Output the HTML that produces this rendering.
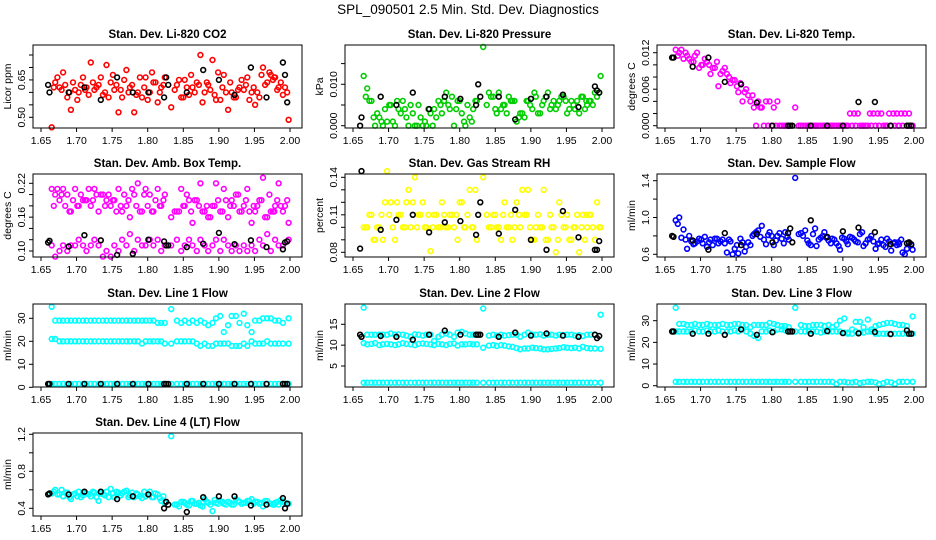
<!DOCTYPE html>
<html><head><meta charset="utf-8"><title>SPL_090501 Diagnostics</title>
<style>
html,body{margin:0;padding:0;background:#fff;}
svg{display:block;font-family:"Liberation Sans",Arial,sans-serif;}
</style></head>
<body>
<svg id="chart" width="936" height="540" viewBox="0 0 936 540" xmlns="http://www.w3.org/2000/svg">
<rect x="0" y="0" width="936" height="540" fill="#fff"/>
<text x="468" y="14" text-anchor="middle" font-size="13.5" fill="#000">SPL_090501  2.5 Min. Std. Dev. Diagnostics</text>
</svg>
<script>
const X = [1.665,1.670,1.676,1.681,1.687,1.692,1.698,1.703,1.709,1.714,1.720,1.725,1.731,1.737,1.742,1.748,1.753,1.759,1.764,1.770,1.775,1.781,1.786,1.792,1.797,1.803,1.808,1.814,1.819,1.824,1.833,1.841,1.847,1.852,1.858,1.863,1.869,1.874,1.880,1.885,1.891,1.896,1.902,1.907,1.913,1.918,1.924,1.929,1.935,1.940,1.946,1.951,1.957,1.962,1.968,1.973,1.979,1.984,1.990,1.998];
const X2 = [1.668,1.673,1.679,1.684,1.690,1.695,1.701,1.706,1.712,1.717,1.723,1.728,1.734,1.740,1.745,1.751,1.756,1.762,1.767,1.773,1.778,1.784,1.789,1.795,1.800,1.806,1.811,1.817,1.822,1.838,1.844,1.850,1.855,1.861,1.866,1.872,1.877,1.883,1.888,1.894,1.899,1.905,1.910,1.916,1.921,1.927,1.932,1.938,1.943,1.949,1.954,1.960,1.965,1.971,1.976,1.982,1.987,1.993,1.996,1.978];
const BX = [1.660,1.662,1.689,1.711,1.734,1.757,1.779,1.801,1.823,1.826,1.829,1.855,1.878,1.900,1.922,1.945,1.967,1.990,1.993,1.996];
const xTicks = [1.65,1.70,1.75,1.80,1.85,1.90,1.95,2.00];
const xTickLabels = ["1.65","1.70","1.75","1.80","1.85","1.90","1.95","2.00"];

const CO2 = [0.46,0.64,0.62,0.68,0.58,0.53,0.61,0.60,0.66,0.62,0.72,0.61,0.63,0.59,0.71,0.64,0.61,0.52,0.58,0.69,0.62,0.52,0.60,0.58,0.66,0.60,0.64,0.56,0.62,0.66,0.54,0.63,0.58,0.65,0.59,0.62,0.64,0.75,0.60,0.63,0.73,0.57,0.57,0.67,0.53,0.60,0.58,0.62,0.61,0.66,0.60,0.55,0.58,0.70,0.64,0.67,0.66,0.62,0.59,0.49];
const CO2_2 = [0.62,0.66,0.61,0.63,0.60,0.64,0.57,0.63,0.61,0.59,0.64,0.62,0.66,0.60,0.58,0.67,0.63,0.61,0.65,0.60,0.63,0.59,0.66,0.62,0.57,0.68,0.64,0.60,0.63,0.61,0.65,0.58,0.62,0.67,0.60,0.63,0.56,0.64,0.61,0.59,0.68,0.62,0.60,0.64,0.58,0.61,0.65,0.63,0.57,0.62,0.60,0.67,0.63,0.68,0.65,0.61,0.64,0.62,0.60,0.66];
const CO2_K = [0.63,0.60,0.60,0.62,0.57,0.66,0.60,0.60,0.58,0.66,0.63,0.60,0.69,0.65,0.59,0.70,0.58,0.72,0.67,0.56];

const PR = [0.012,0.009,0.006,0.000,0.002,0.000,0.001,0.005,0.000,0.004,0.006,0.002,0.005,0.000,0.005,0.000,0.000,0.003,0.004,0.006,0.003,0.008,0.004,0.000,0.006,0.003,0.000,0.002,0.004,0.006,0.019,0.008,0.007,0.003,0.004,0.005,0.007,0.006,0.001,0.003,0.002,0.006,0.004,0.007,0.003,0.006,0.008,0.005,0.004,0.006,0.007,0.003,0.006,0.004,0.003,0.007,0.005,0.006,0.008,0.012];
const PR_2 = [0.007,0.006,0.002,0.003,0.001,0.004,0.005,0.001,0.006,0.003,0.004,0.000,0.003,0.000,0.002,0.001,0.004,0.000,0.002,0.005,0.006,0.005,0.007,0.004,0.006,0.001,0.005,0.001,0.006,0.005,0.007,0.004,0.008,0.005,0.003,0.006,0.006,0.002,0.003,0.006,0.005,0.008,0.003,0.005,0.007,0.004,0.006,0.005,0.007,0.006,0.004,0.005,0.006,0.007,0.004,0.006,0.005,0.007,0.008,0.006];
const PR_K = [0.000,0.002,0.007,0.005,0.008,0.004,0.007,0.0065,0.005,0.010,0.007,0.007,0.0015,0.0065,0.007,0.0075,0.0045,0.0095,0.0085,0.008];

const TEMP_A = [0.0125,0.012,0.011,0.0115,0.0105,0.0115,0.0095,0.010,0.0105,0.0085,0.0095,0.0065,0.009,0.0085,0.007,0.0075,0.0055,0.004,0.006,0.004,0.003,0.004,0.003,0.004,0.004,0.003,0.004,0,0,0,0.003,0,0,0,0,0,0,0,0,0,0,0,0,0,0,0,0,0,0,0,0,0,0,0,0,0,0,0,0,0];
const TEMP_B = [0.0115,0.0125,0.012,0.011,0.0105,0.012,0.010,0.011,0.010,0.0095,0.0105,0.0085,0.0095,0.008,0.0075,0.0065,0.007,0.0055,0.005,0.005,0,0.003,0,0,0,0,0,0,0,0,0,0,0,0,0,0,0,0,0,0,0,0,0.002,0.002,0.002,0,0,0.002,0.002,0.002,0.002,0,0.002,0.002,0.002,0.002,0.002,0.002,0,0];
const TEMP_K = [0.0112,0.0112,0.0097,0.0112,0.0072,0.0068,0.0038,0.000,0.000,0.000,0.000,0.000,0.000,0.000,0.0039,0.0039,0.000,0.000,0.000,0.000];

const AMB_A = [0.21,0.20,0.19,0.21,0.20,0.17,0.21,0.18,0.19,0.19,0.18,0.21,0.17,0.20,0.19,0.18,0.19,0.21,0.17,0.18,0.16,0.20,0.22,0.17,0.21,0.20,0.17,0.21,0.18,0.20,0.16,0.17,0.21,0.18,0.19,0.15,0.19,0.22,0.17,0.16,0.18,0.22,0.17,0.21,0.16,0.19,0.20,0.17,0.18,0.21,0.15,0.17,0.19,0.23,0.16,0.17,0.18,0.22,0.17,0.15];
const AMB_B = [0.11,0.09,0.10,0.11,0.10,0.11,0.11,0.12,0.11,0.10,0.11,0.12,0.11,0.09,0.10,0.09,0.11,0.10,0.12,0.11,0.13,0.10,0.12,0.11,0.11,0.12,0.11,0.12,0.10,0.11,0.11,0.12,0.10,0.11,0.12,0.11,0.10,0.12,0.11,0.10,0.11,0.12,0.10,0.12,0.11,0.10,0.11,0.10,0.11,0.10,0.11,0.10,0.12,0.11,0.13,0.10,0.12,0.11,0.11,0.12];
const AMB_C = [0.18,0.21,0.20,0.18,0.17,0.19,0.18,0.20,0.19,0.21,0.19,0.20,0.20,0.18,0.20,0.19,0.17,0.18,0.20,0.19,0.21,0.18,0.17,0.20,0.18,0.17,0.19,0.18,0.19,0.17,0.17,0.18,0.20,0.17,0.19,0.18,0.17,0.18,0.16,0.18,0.19,0.17,0.19,0.18,0.18,0.20,0.17,0.19,0.17,0.18,0.18,0.19,0.16,0.20,0.17,0.19,0.18,0.18,0.19,0.17];
const AMB_K = [0.115,0.118,0.108,0.128,0.119,0.093,0.095,0.12,0.117,0.11,0.11,0.107,0.113,0.132,0.112,0.119,0.107,0.103,0.115,0.117];

const RH = [0.10,0.10,0.11,0.09,0.10,0.09,0.145,0.12,0.09,0.11,0.10,0.12,0.10,0.14,0.11,0.12,0.10,0.081,0.11,0.10,0.12,0.10,0.11,0.10,0.09,0.12,0.10,0.13,0.10,0.09,0.14,0.10,0.11,0.10,0.09,0.12,0.10,0.09,0.12,0.10,0.11,0.13,0.09,0.10,0.10,0.13,0.09,0.10,0.08,0.12,0.10,0.11,0.09,0.10,0.08,0.11,0.10,0.11,0.09,0.10];
const RH_2 = [0.10,0.11,0.09,0.10,0.11,0.12,0.11,0.10,0.12,0.11,0.10,0.13,0.12,0.10,0.11,0.10,0.11,0.10,0.11,0.10,0.11,0.10,0.11,0.11,0.12,0.10,0.11,0.10,0.13,0.11,0.10,0.11,0.10,0.11,0.10,0.11,0.10,0.11,0.13,0.11,0.10,0.09,0.11,0.10,0.09,0.11,0.10,0.09,0.11,0.10,0.09,0.10,0.11,0.10,0.09,0.11,0.10,0.12,0.10,0.11];
const RH_K = [0.083,0.145,0.098,0.106,0.110,0.096,0.104,0.105,0.094,0.110,0.120,0.095,0.114,0.090,0.082,0.113,0.092,0.082,0.082,0.089];

const SF = [0.97,1.00,0.87,0.66,0.74,0.72,0.77,0.72,0.68,0.76,0.77,0.72,0.76,0.62,0.74,0.66,0.61,0.73,0.68,0.70,0.82,0.86,0.91,0.71,0.84,0.70,0.80,0.77,0.84,0.76,1.43,0.83,0.86,0.72,0.82,0.69,0.78,0.84,0.75,0.77,0.72,0.65,0.77,0.71,0.78,0.74,0.82,0.69,0.76,0.80,0.66,0.72,0.70,0.77,0.64,0.73,0.71,0.62,0.66,0.65];
const SF_2 = [0.93,0.78,0.76,0.80,0.71,0.74,0.76,0.79,0.73,0.70,0.77,0.74,0.72,0.76,0.60,0.70,0.77,0.63,0.73,0.80,0.84,0.79,0.76,0.81,0.80,0.75,0.83,0.72,0.79,0.82,0.80,0.75,0.70,0.88,0.76,0.80,0.78,0.72,0.76,0.69,0.78,0.74,0.79,0.76,0.73,0.84,0.72,0.77,0.74,0.71,0.76,0.68,0.74,0.72,0.70,0.76,0.60,0.72,0.70,0.73];
const SF_K = [0.80,0.79,0.75,0.65,0.83,0.70,0.82,0.73,0.83,0.88,0.73,0.97,0.79,0.85,0.89,0.84,0.71,0.72,0.73,0.71];

const L1_A = [35,29,29,29,29,29,29,29,29,29,29,29,29,29,29,29,29,29,29,29,29,29,29,29,29,29,29,28,28,28,34,29,28,29,28,29,28,29,28,27,28,30,31,24,27,31,31,28,32,27,24,29,29,30,30,30,29,29,28,30];
const L1_B = [21,21,20,20,20,20,20,20,20,20,20,20,20,20,20,20,20,20,20,20,20,20,20,19,20,20,20,20,20,19,19,20,20,20,20,20,19,18,19,18,18,19,19,19,19,18,18,18,19,18,20,19,19,19,20,19,19,19,19,19];
const L1_C = [1.5,1.5,1.5,1.5,1.5,1.5,1.5,1.5,1.5,1.5,1.5,1.5,1.5,1.5,1.5,1.5,1.5,1.5,1.5,1.5,1.5,1.5,1.5,1.5,1.5,1.5,1.5,1.5,1.5,1.5,1.5,1.5,1.5,1.5,1.5,1.5,1.5,1.5,1.5,1.5,1.5,1.5,1.5,1.5,1.5,1.5,1.5,1.5,1.5,1.5,1.5,1.5,1.5,1.5,1.5,1.5,1.5,1.5,1.5,1.5];
const L1_K = [1.5,1.5,1.5,1.5,1.5,1.5,1.5,1.5,1.5,1.5,1.5,1.5,1.5,1.5,1.5,1.5,1.5,1.5,1.5,1.5];

const L2_A = [19,12.5,12.5,12.5,12.5,12.5,12.5,12.8,12.5,12.6,12.5,12.3,12,12.6,12.5,12.3,12.5,12.5,11,12,12.5,12.8,12.5,12,13,13.2,12.8,12.5,12.5,12.5,18.8,12.3,12.5,12.3,12.5,12.3,12.4,12.5,12.5,12,12.5,13,12.5,12.5,12.6,12.3,12.5,12.5,12.3,12.5,12.4,12.5,12.5,12.3,12.4,12.2,12.5,12.5,12.5,17.3];
const L2_B = [10.5,10.2,10.3,10.5,10,10.2,10.3,10.2,10,10.2,10.5,10.3,10.2,10,10.3,10.4,10.3,10.2,10,10.3,10.2,10,10.3,10.4,9.9,10.2,10.2,10.3,10.2,10.2,9.4,9.9,10,9.8,10,9.9,9.7,9.6,9.3,9,9.2,9.2,9.4,9.3,9.2,9,9,9.1,9.2,9.3,9.5,9.4,9.3,9.4,9.2,9.6,9.3,9.2,9.2,9.1];
const L2_C = [1,1,1,1,1,1,1,1,1,1,1,1,1,1,1,1,1,1,1,1,1,1,1,1,1,1,1,1,1,1,1,1,1,1,1,1,1,1,1,1,1,1,1,1,1,1,1,1,1,1,1,1,1,1,1,1,1,1,1,1];
const L2_K = [12.5,12,12.2,12,11.3,12.5,13.5,12.5,12.5,12.5,12.5,12,13,12.3,12.8,12.3,12,12.5,11.7,12.2];

const L3_A = [36,28.5,28.5,28,28,28.5,28,28,28.5,28,28,28,28.5,28,28,28.5,28.5,28,28,27,28,28,28,28,29,28.5,28,27.5,27.5,27,36,28,27.5,27.5,28,28,28,27.5,28,27,28,30,31,24.5,26,29.5,29.5,27,30.5,26,27.5,28,28.5,29,29,28.5,28,28,27.5,32];
const L3_B = [25,25,25,25,25,25.5,25,25,25.5,25,25,25.5,25,25,25,25.5,25,26,25,24,23,22,25,25,25.5,25,26,26,25.5,25,25,25,25,25,25,25,24.5,25,25,25,25,25,24.5,24,24,25,24.5,24.5,25,25,24,24,24,24,24,24,24,24,24,24];
const L3_C = [1.8,1.8,1.8,1.8,1.8,1.8,1.8,1.8,1.8,1.8,1.8,1.8,1.8,1.8,1.8,1.8,1.8,1.8,1.8,1.8,1.8,1.8,1.8,1.8,1.8,1.8,1.8,1.8,1.8,1.8,1.8,1.8,1.8,1.8,1.8,1.8,1.8,1.8,1.8,1.8,0.8,1.8,1.8,1.5,1.5,1.8,1.2,1.5,1.8,1.8,1.5,0.8,1.2,1.8,1.5,0.8,1.8,1.8,1.8,1.8];
const L3_K = [25,25,24,24,23.5,26,23.5,24.7,25,25,25,24,25.2,24.3,24.2,24.8,23.8,25.5,24,24];

const L4_A = [0.56,0.60,0.55,0.53,0.57,0.50,0.56,0.58,0.54,0.56,0.53,0.57,0.48,0.55,0.58,0.61,0.52,0.57,0.56,0.59,0.54,0.52,0.55,0.51,0.53,0.58,0.52,0.55,0.48,0.46,1.18,0.44,0.47,0.46,0.43,0.48,0.45,0.43,0.50,0.46,0.37,0.46,0.48,0.45,0.47,0.44,0.50,0.47,0.46,0.48,0.50,0.47,0.45,0.42,0.48,0.45,0.46,0.44,0.47,0.45];
const L4_B = [0.58,0.55,0.60,0.57,0.52,0.55,0.53,0.52,0.57,0.55,0.58,0.52,0.56,0.54,0.52,0.56,0.58,0.54,0.58,0.52,0.57,0.56,0.53,0.58,0.55,0.52,0.56,0.51,0.53,0.44,0.42,0.47,0.44,0.48,0.45,0.46,0.42,0.47,0.44,0.49,0.45,0.47,0.44,0.46,0.44,0.48,0.45,0.46,0.48,0.45,0.47,0.46,0.48,0.45,0.44,0.47,0.49,0.46,0.45,0.44];
const L4_K = [0.55,0.56,0.55,0.58,0.58,0.50,0.53,0.55,0.40,0.47,0.44,0.36,0.52,0.53,0.53,0.43,0.44,0.51,0.40,0.45];

const panels = [
 {name:'co2',title:'Stan. Dev. Li-820 CO2',ylab:'Licor ppm',col:0,row:0,v1:0.50,p1:117.3,v2:0.75,p2:55.0,ticks:[0.50,0.55,0.60,0.65,0.70,0.75],labels:['0.50','','','0.65','',''],series:[[CO2,'#ff0000',X],[CO2_2,'#ff0000',X2]],black:CO2_K},
 {name:'pressure',title:'Stan. Dev. Li-820 Pressure',ylab:'kPa',col:1,row:0,v1:0,p1:125.7,v2:0.010,p2:84.3,ticks:[0,0.005,0.010,0.015],labels:['0.000','','0.010',''],series:[[PR,'#00cd00',X],[PR_2,'#00cd00',X2]],black:PR_K},
 {name:'li820-temp',title:'Stan. Dev. Li-820 Temp.',ylab:'degrees C',col:2,row:0,v1:0,p1:125.7,v2:0.012,p2:52.7,ticks:[0,0.002,0.004,0.006,0.008,0.010,0.012],labels:['0.000','','','0.006','','','0.012'],series:[[TEMP_A,'#ff00ff',X],[TEMP_B,'#ff00ff',X2]],black:TEMP_K},
 {name:'amb-box-temp',title:'Stan. Dev. Amb. Box Temp.',ylab:'degrees C',col:0,row:1,v1:0.10,p1:251,v2:0.22,p2:183.3,ticks:[0.10,0.12,0.14,0.16,0.18,0.20,0.22],labels:['0.10','','','0.16','','','0.22'],series:[[AMB_A,'#ff00ff',X],[AMB_B,'#ff00ff',X],[AMB_C,'#ff00ff',X2]],black:AMB_K},
 {name:'gas-stream-rh',title:'Stan. Dev. Gas Stream RH',ylab:'percent',col:1,row:1,v1:0.08,p1:252.3,v2:0.14,p2:177.3,ticks:[0.08,0.09,0.10,0.11,0.12,0.13,0.14],labels:['0.08','','','0.11','','','0.14'],series:[[RH,'#ffff00',X],[RH_2,'#ffff00',X2]],black:RH_K},
 {name:'sample-flow',title:'Stan. Dev. Sample Flow',ylab:'ml/min',col:2,row:1,v1:0.6,p1:254.3,v2:1.4,p2:180.7,ticks:[0.6,0.8,1.0,1.2,1.4],labels:['0.6','','1.0','','1.4'],series:[[SF,'#0000ff',X],[SF_2,'#0000ff',X2]],black:SF_K},
 {name:'line1-flow',title:'Stan. Dev. Line 1 Flow',ylab:'ml/min',col:0,row:2,v1:0,p1:387.3,v2:30,p2:318.3,ticks:[0,10,20,30],labels:['0','10','20','30'],series:[[L1_A,'#00ffff',X],[L1_B,'#00ffff',X],[L1_C,'#00ffff',X]],black:L1_K},
 {name:'line2-flow',title:'Stan. Dev. Line 2 Flow',ylab:'ml/min',col:1,row:2,v1:5,p1:366,v2:15,p2:324.3,ticks:[5,10,15],labels:['5','10','15'],series:[[L2_A,'#00ffff',X],[L2_B,'#00ffff',X],[L2_C,'#00ffff',X]],black:L2_K},
 {name:'line3-flow',title:'Stan. Dev. Line 3 Flow',ylab:'ml/min',col:2,row:2,v1:0,p1:385.7,v2:30,p2:320.7,ticks:[0,10,20,30],labels:['0','10','20','30'],series:[[L3_A,'#00ffff',X],[L3_B,'#00ffff',X],[L3_C,'#00ffff',X]],black:L3_K},
 {name:'line4-flow',title:'Stan. Dev. Line 4 (LT) Flow',ylab:'ml/min',col:0,row:3,v1:0.4,p1:508.3,v2:1.2,p2:434.3,ticks:[0.4,0.6,0.8,1.0,1.2],labels:['0.4','','0.8','','1.2'],series:[[L4_A,'#00ffff',X],[L4_B,'#00ffff',X2]],black:L4_K}
];

const NS='http://www.w3.org/2000/svg';
const svg=document.getElementById('chart');
const colLeft=[33,345,657], rowTop=[45,174,304,433], BW=269, BH=83;
function mk(tag,attrs,parent){const e=document.createElementNS(NS,tag);for(const k in attrs)e.setAttribute(k,attrs[k]);parent.appendChild(e);return e;}

panels.forEach(p=>{
  const L=colLeft[p.col], T=rowTop[p.row], B=T+BH, R=L+BW;
  const xs=v=>L+8+(v-1.65)*(249/0.35);
  const ys=v=>p.p1+(v-p.v1)*(p.p2-p.p1)/(p.v2-p.v1);
  const g=mk('g',{},svg);
  
  
  const t=mk('text',{x:(L+R)/2,y:T-7,'text-anchor':'middle','font-size':'11.5','font-weight':'bold'},g);
  t.textContent=p.title;
  
  
  const pts=mk('g',{fill:'none','stroke-width':'1.6'},g);
  
  
  p.series.forEach(s=>{
    const xa=s[2];
    s[0].forEach((v,i)=>{
      const c=mk('circle',{cx:xs(xa[i]).toFixed(1),cy:ys(v).toFixed(1),r:2.4,stroke:s[1]},pts);
      
      
    });
  });
  p.black.forEach((v,i)=>{
    const c=mk('circle',{cx:xs(BX[i]).toFixed(1),cy:ys(v).toFixed(1),r:2.4,stroke:'#000'},pts);
    
    
  });
  const box=mk('rect',{x:L,y:T,width:BW,height:BH,fill:'none',stroke:'#000','stroke-width':'1'},g);
  
  
  const xa=mk('g',{'font-size':'10.5'},g);
  
  
  xTicks.forEach((v,i)=>{
    const x=xs(v);
    mk('line',{x1:x,y1:B,x2:x,y2:B+4,stroke:'#000'},xa);
    const tl=mk('text',{x:x,y:B+16,'text-anchor':'middle'},xa);
    tl.textContent=xTickLabels[i];
  });
  mk('line',{x1:xs(1.65),y1:B,x2:xs(2.0),y2:B,stroke:'#000'},xa);
  const ya=mk('g',{'font-size':'10.5'},g);
  
  
  p.ticks.forEach((v,i)=>{
    const y=ys(v);
    mk('line',{x1:L-4,y1:y,x2:L,y2:y,stroke:'#000'},ya);
    if(p.labels[i]){
      const tl=mk('text',{x:L-8,y:y,'text-anchor':'middle',transform:`rotate(-90 ${L-8} ${y})`},ya);
      tl.textContent=p.labels[i];
    }
  });
  const yl=mk('text',{x:L-22,y:(T+B)/2,'text-anchor':'middle','font-size':'10.5',transform:`rotate(-90 ${L-22} ${(T+B)/2})`},g);
  yl.textContent=p.ylab;
  
  
});
</script>
</body></html>
